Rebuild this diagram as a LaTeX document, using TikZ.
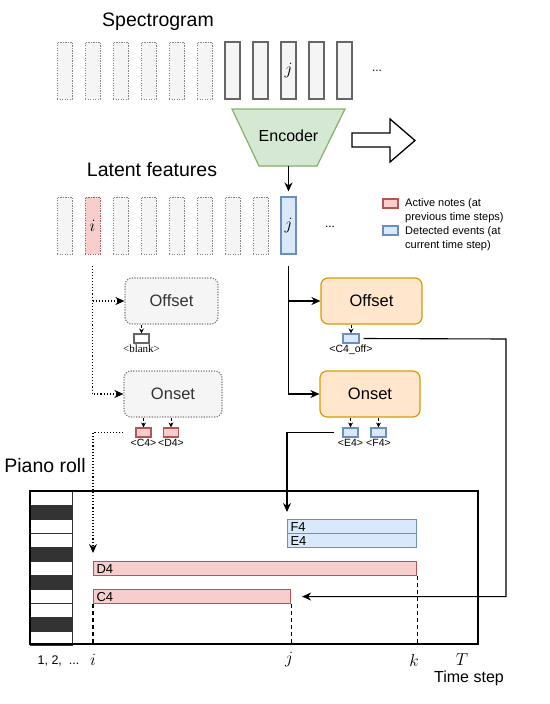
\documentclass[tikz,border=0pt]{standalone}
\usepackage{fontspec}
\setmainfont{Liberation Sans}
\newfontfamily\serifnote{Liberation Serif}
\usetikzlibrary{arrows.meta, positioning}

\definecolor{grayfill}{HTML}{F5F5F5}
\definecolor{graydraw}{HTML}{666666}
\definecolor{graytext}{HTML}{333333}
\definecolor{redfill}{HTML}{F8CECC}
\definecolor{reddraw}{HTML}{B85450}
\definecolor{bluefill}{HTML}{DAE8FC}
\definecolor{bluedraw}{HTML}{6C8EBF}
\definecolor{greenfill}{HTML}{D5E8D4}
\definecolor{greendraw}{HTML}{82B366}
\definecolor{orangefill}{HTML}{FFE6CC}
\definecolor{orangedraw}{HTML}{D79B00}
\definecolor{keydark}{HTML}{333333}

\newcommand{\fsz}[1]{\fontsize{#1}{#1}\selectfont}

\tikzset{
  column/.style={inner sep=0pt, minimum width=15pt, minimum height=57pt, line width=1.1pt},
  specbox/.style={column, fill=grayfill, draw=graydraw},
  ghostbox/.style={column, fill=grayfill, draw=graydraw!80, line width=1pt, dash pattern=on 1.2pt off 1.3pt},
  activebox/.style={column, fill=redfill, draw=reddraw, line width=1pt, dash pattern=on 1.2pt off 1.3pt},
  currentbox/.style={column, fill=bluefill, draw=bluedraw},
  headbox/.style={rounded corners=7pt, minimum height=46pt, inner sep=0pt, line width=1.2pt, font=\fsz{16.5}},
  idlehead/.style={headbox, fill=grayfill, draw=graydraw!85, dash pattern=on 1.2pt off 1.4pt, text=graytext},
  livehead/.style={headbox, fill=orangefill, draw=orangedraw},
  token/.style={inner sep=0pt, minimum width=15pt, minimum height=9pt, line width=1.1pt},
  tokname/.style={inner sep=0pt, font=\fsz{10.5}, below=1.5pt},
  note/.style={inner xsep=3pt, inner ysep=0pt, minimum height=14pt, line width=1.1pt, font=\fsz{13}, align=left},
  rednote/.style={note, fill=redfill, draw=reddraw},
  bluenote/.style={note, fill=bluefill, draw=bluedraw},
  keybox/.style={inner sep=0pt, minimum width=42pt, minimum height=14pt, draw=keydark, line width=1pt},
  arr/.style={line width=1.1pt, -{Stealth[length=9pt,width=8pt]}},
  dotarr/.style={arr, dotted},
  tinyarr/.style={line width=0.9pt, densely dashed, -{Stealth[length=5pt,width=5pt]}},
  title/.style={inner sep=0pt, font=\fsz{19.5}},
  axis/.style={inner sep=0pt, font=\fsz{16.5}}
}

\begin{document}
\begin{tikzpicture}[x=1pt, y=-1pt]
\useasboundingbox (0,0) rectangle (549,704);

% spectrogram frames
\node[title] (spectitle) at (158,22) {Spectrogram};
\foreach \k in {0,...,5}
  \node[ghostbox] (s\k) at ({64.5+28*\k},70.5) {};
\foreach \k in {6,...,10}
  \node[specbox] (s\k) at ({64.5+28*\k},70.5) {};
\node[axis] (specj) at (s8) {$j$};
\node[inner sep=0pt, font=\fsz{12}] (specdots) at (377,71) {...};

% encoder
\draw[fill=greenfill, draw=greendraw, line width=1.2pt] (232,109) -- (345,109) -- (317,166) -- (259,166) -- cycle;
\node[inner sep=0pt, font=\fsz{16}] (enc) at (288.5,136) {Encoder};
\coordinate (encbot) at (288.5,166);
\draw[fill=white, line width=1.3pt] (352,133) -- (390,133) -- (390,119) -- (415,140.5) -- (390,162) -- (390,147) -- (352,147) -- cycle;

% latent features
\node[title] (lattitle) at (152,170) {Latent features};
\foreach \k in {0,2,3,4,5,6,7}
  \node[ghostbox] (l\k) at ({64.5+28*\k},225.5) {};
\node[activebox] (l1) at (92.5,225.5) {};
\node[currentbox] (l8) at (288.5,225.5) {};
\node[axis] (lati) at (l1) {$i$};
\node[axis] (latj) at (l8) {$j$};
\node[inner sep=0pt, font=\fsz{12}] (latdots) at (330,227) {...};
\draw[arr] (encbot) -- ([yshift=5pt]l8.north);

% legend
\node[token, fill=redfill, draw=reddraw] (legred) at (390.5,203.5) {};
\node[token, fill=bluefill, draw=bluedraw] (legblue) at (390.5,230.5) {};
\node[inner sep=0pt, anchor=west, align=left, font=\fontsize{11}{14}\selectfont] (legredtxt) at (405,211) {Active notes (at\\previous time steps)};
\node[inner sep=0pt, anchor=west, align=left, font=\fontsize{11}{14}\selectfont] (legbluetxt) at (405,238.5) {Detected events (at\\current time step)};

% heads fed with previous steps
\node[idlehead, minimum width=93pt] (offL) at (171.5,301) {Offset};
\node[idlehead, minimum width=98pt] (onL) at (173,394) {Onset};
\draw[dotarr] ([yshift=-11pt]l1.south) |- (onL.west);
\draw[dotarr] (l1.south |- offL.west) -- (offL.west);

% heads fed with current step
\node[livehead, minimum width=101pt] (offR) at (371.5,301) {Offset};
\node[livehead, minimum width=100pt] (onR) at (370,394) {Onset};
\draw[arr] ([yshift=-11pt]l8.south) |- (onR.west);
\draw[arr] (l8.south |- offR.west) -- (offR.west);

% output tokens
\node[token, fill=white, draw=graydraw] (blank) at (141.5,338.5) {};
\node[tokname, font=\serifnote\fsz{11}] (blanktxt) at (blank.south) {<blank>};
\node[token, fill=redfill, draw=reddraw] (c4o) at (143.5,432.5) {};
\node[token, fill=redfill, draw=reddraw] (d4o) at (171,432.5) {};
\node[tokname] (c4otxt) at (c4o.south) {<C4>};
\node[tokname] (d4otxt) at (d4o.south) {<D4>};
\node[token, fill=bluefill, draw=bluedraw, minimum width=16pt] (c4off) at (351,338.5) {};
\node[tokname] (c4offtxt) at (c4off.south) {<C4\_off>};
\node[token, fill=bluefill, draw=bluedraw] (e4o) at (350.5,432.5) {};
\node[token, fill=bluefill, draw=bluedraw] (f4o) at (378.5,432.5) {};
\node[tokname] (e4otxt) at (e4o.south) {<E4>};
\node[tokname] (f4otxt) at (f4o.south) {<F4>};
\draw[tinyarr] (offL.south -| blank) -- (blank.north);
\draw[tinyarr] (onL.south -| c4o) -- (c4o.north);
\draw[tinyarr] (onL.south -| d4o) -- (d4o.north);
\draw[tinyarr] (offR.south -| c4off) -- (c4off.north);
\draw[tinyarr] (onR.south -| e4o) -- (e4o.north);
\draw[tinyarr] (onR.south -| f4o) -- (f4o.north);

% piano roll
\node[title] (rolltitle) at (45,466) {Piano roll};
\foreach \r/\kc in {0/white,1/keydark,2/white,3/white,4/keydark,5/white,6/keydark,7/white,8/white,9/keydark,10/white}
  \node[keybox, fill=\kc] (key\r) at (51,{498+14*\r}) {};
\node[draw, line width=1.3pt, minimum width=448pt, minimum height=153pt, inner sep=0pt] (roll) at (254,567.5) {};
\node[bluenote, anchor=north west, text width=123pt] (f4n) at (287,519) {F4};
\node[bluenote, anchor=north west, text width=123pt] (e4n) at (287,533) {E4};
\node[rednote, anchor=north west, text width=317pt] (d4n) at (93,561) {D4};
\node[rednote, anchor=north west, text width=191pt] (c4n) at (93,589) {C4};
\draw[line width=1.1pt, dash pattern=on 4pt off 3pt] (c4n.south west) -- (c4n.south west |- roll.south);
\draw[line width=1.1pt, dash pattern=on 4pt off 3pt] (c4n.south east) -- (c4n.south east |- roll.south);
\draw[line width=1.1pt, dash pattern=on 4pt off 3pt] (d4n.south east) -- (d4n.south east |- roll.south);

% writing tokens into the roll
\draw[dotarr] ([xshift=-12pt]c4o.west) -| ([yshift=8pt]d4n.north west);
\draw[arr] ([xshift=-8pt]e4o.west) -| ([yshift=7pt]f4n.north west);
\coordinate (fbk) at (506,339);
\draw[arr] ([xshift=4pt]c4off.east) -- (fbk) |- ([xshift=11pt]c4n.east);

% time axis
\node[inner sep=0pt, font=\fsz{12.5}] (ticks) at (58.5,661) {1, 2,\ \ ...};
\node[axis] (ti) at (93,660) {$i$};
\node[axis] (tj) at (289,660) {$j$};
\node[axis] (tk) at (414,660) {$k$};
\node[axis] (tT) at (462,660) {$T$};
\node[inner sep=0pt, font=\fsz{16}] (tstep) at (469,678) {Time step};
\end{tikzpicture}
\end{document}
